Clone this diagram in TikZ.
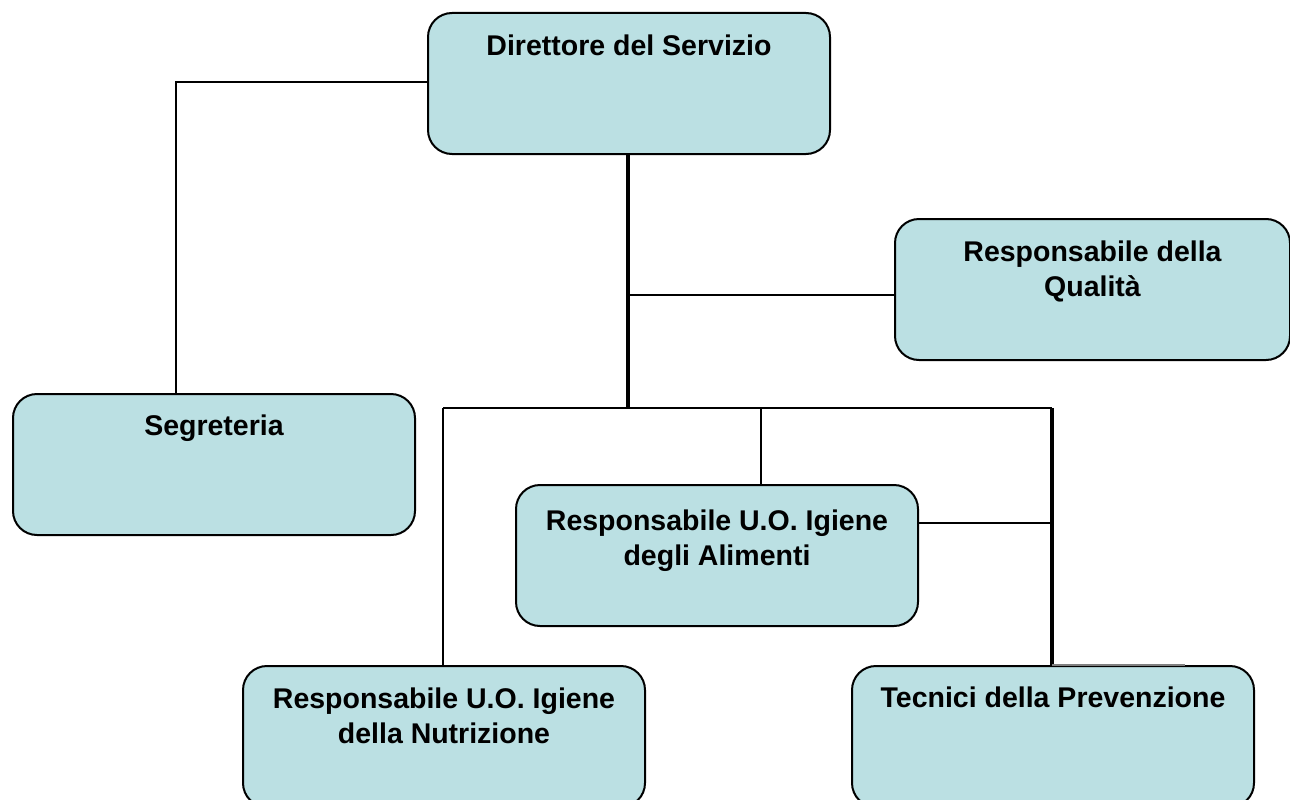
\documentclass[tikz,border=0pt]{standalone}
\usepackage{fontspec}
\setmainfont{Liberation Sans}
\definecolor{boxfill}{HTML}{BBE0E3}
\begin{document}
\begin{tikzpicture}[x=1pt,y=-1pt,
  orgbox/.style={draw=black, line width=2pt, fill=boxfill, rounded corners=24pt,
    minimum width=402pt, minimum height=141pt, inner sep=0pt, anchor=north west},
  lbl/.style={anchor=north, inner sep=0pt, align=center,
    font=\fontsize{28.5}{35}\selectfont\bfseries},
  link/.style={draw=black, line width=2.7pt}]
\useasboundingbox (0,0) rectangle (1290,800);
\begin{scope}
\clip (0,0) rectangle (1290,800);
% boxes
\node[orgbox] (dir) at (427,12) {};
\node[orgbox, minimum width=395pt] (qual) at (894,218) {};
\node[orgbox] (seg) at (12,393) {};
\node[orgbox] (ali) at (515,484) {};
\node[orgbox] (nut) at (242,665) {};
\node[orgbox] (tec) at (851,665) {};
% labels
\node[lbl] (tdir) at ([yshift=-21pt]dir.north) {\rule{0pt}{22pt}Direttore del Servizio};
\node[lbl] (tqual) at ([yshift=-21pt]qual.north) {\rule{0pt}{22pt}Responsabile della\\Qualità};
\node[lbl] (tseg) at ([yshift=-20pt]seg.north) {\rule{0pt}{22pt}Segreteria};
\node[lbl] (tali) at ([yshift=-24pt]ali.north) {\rule{0pt}{22pt}Responsabile U.O. Igiene\\degli Alimenti};
\node[lbl] (tnut) at ([yshift=-21pt]nut.north) {\rule{0pt}{22pt}Responsabile U.O. Igiene\\della Nutrizione};
\node[lbl] (ttec) at ([yshift=-20pt]tec.north) {\rule{0pt}{22pt}Tecnici della Prevenzione};
% junction coordinates
\coordinate (jq) at (628,295);
\coordinate (jbar) at (628,408);
\coordinate (jl) at (443,408);
\coordinate (jr) at (1052,408);
\coordinate (ja) at (761,408);
\coordinate (jar) at (1052,523);
\coordinate (jtec) at (1052,665);
\coordinate (jsegc) at (176,82);
\end{scope}
% connectors
\draw[link] (dir.west |- jsegc) -- (jsegc) -- (jsegc |- seg.north);
\draw[link, line width=3.2pt] (dir.south -| jbar) -- (jbar);
\draw[link] (jq) -- (jq -| qual.west);
\draw[link] (jl) -- (jr);
\draw[link] (jl) -- (jl |- nut.north);
\draw[link] (ja) -- (ja |- ali.north);
\draw[link, line width=3.2pt] (jr) -- (jtec);
\draw[link] (ali.east |- jar) -- (jar);
\draw[draw=gray, line width=1.5pt] (jtec) -- (1185,665);
\end{tikzpicture}
\end{document}
